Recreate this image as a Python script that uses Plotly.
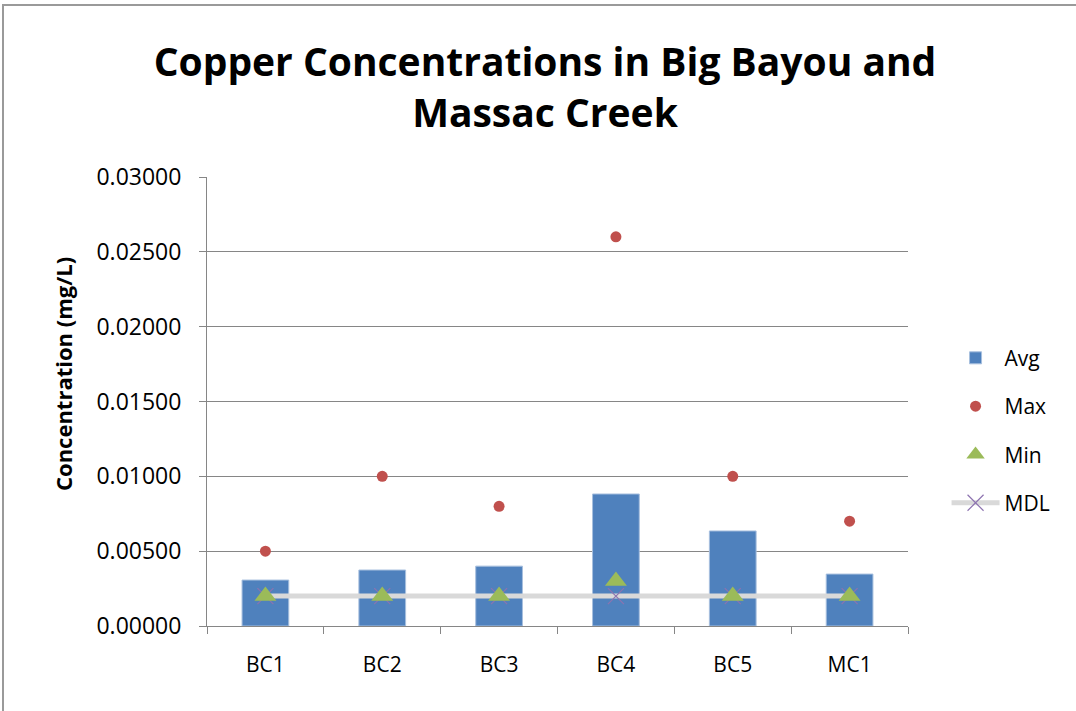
import plotly.graph_objects as go

# Copper concentrations (mg/L) per sampling site
sites = ['BC1', 'BC2', 'BC3', 'BC4', 'BC5', 'MC1']
avg_vals = [0.00307, 0.00374, 0.00400, 0.00882, 0.00635, 0.00347]
max_vals = [0.005, 0.010, 0.008, 0.026, 0.010, 0.007]
min_vals = [0.002, 0.002, 0.002, 0.003, 0.002, 0.002]
mdl_vals = [0.002, 0.002, 0.002, 0.002, 0.002, 0.002]

FONT = 'Open Sans'
TEXT = '#000000'
AXIS = '#868686'

fig = go.Figure()

fig.add_trace(go.Bar(
    x=sites, y=avg_vals, name='Avg', width=0.4,
    marker=dict(color='#4f81bd', line=dict(color='#a7bfde', width=1)),
    legendgroup='avg', legendrank=1,
))
fig.add_trace(go.Scatter(
    x=sites, y=mdl_vals, name='MDL', mode='lines+markers',
    line=dict(color='#d9d9d9', width=5),
    marker=dict(symbol='x-thin', size=16, line=dict(color='#8d73b0', width=1.2)),
    legendgroup='mdl', legendrank=4,
))
fig.add_trace(go.Scatter(
    x=sites, y=max_vals, name='Max', mode='markers',
    marker=dict(symbol='circle', size=11, color='#c0504d'),
    legendgroup='max', legendrank=2,
))
fig.add_trace(go.Scatter(
    x=sites, y=min_vals, name='Min', mode='markers',
    marker=dict(symbol='triangle-up', size=19, color='#9bbb59'),
    legendgroup='min', legendrank=3,
))

fig.update_layout(
    width=1076, height=711,
    paper_bgcolor='white', plot_bgcolor='white',
    font=dict(family=FONT, color=TEXT, size=21),
    margin=dict(l=207, r=168, t=177, b=85),
    title=dict(
        text='<b>Copper Concentrations in Big Bayou and<br>Massac Creek</b>',
        font=dict(size=39, family=FONT, color=TEXT),
        x=0.5065, xanchor='center', y=0.893, yanchor='top',
    ),
    showlegend=True,
    legend=dict(
        x=1.055, xanchor='left', y=0.435, yanchor='middle',
        font=dict(size=21, family=FONT, color=TEXT),
        tracegroupgap=18, itemwidth=48,
    ),
    xaxis=dict(
        showline=True, linecolor=AXIS, linewidth=1,
        ticks='outside', tickson='boundaries', ticklen=7, tickcolor=AXIS,
        ticklabelstandoff=20, showgrid=False,
    ),
    yaxis=dict(
        range=[0, 0.03], dtick=0.005, tickformat='.5f',
        showline=True, linecolor=AXIS, linewidth=1,
        ticks='outside', ticklen=7, tickcolor=AXIS, ticklabelstandoff=13,
        tickfont=dict(size=23),
        showgrid=True, gridcolor=AXIS, gridwidth=1, zeroline=False,
    ),
    annotations=[dict(
        text='<b>Concentration (mg/L)</b>', textangle=-90,
        xref='paper', yref='paper', x=(63 - 207) / 701, y=(626 - 374) / 449,
        xanchor='center', yanchor='middle', showarrow=False,
        font=dict(size=22, family=FONT, color=TEXT),
    )],
    shapes=[dict(
        type='rect', xref='paper', yref='paper',
        x0=(3 - 207) / 701, x1=1.5, y0=-0.5, y1=(626 - 5) / 449,
        line=dict(color='#9a9a9a', width=2), fillcolor='rgba(0,0,0,0)', layer='below',
    )],
)

fig.write_html('out.html', config={'displayModeBar': False},
               post_script="document.body.style.margin='0';")
